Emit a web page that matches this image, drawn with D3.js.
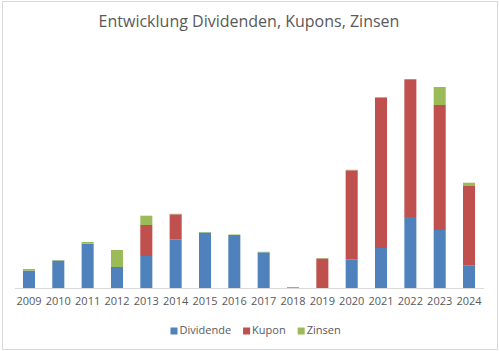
<!DOCTYPE html>
<html>
<head>
<meta charset="utf-8">
<script src="https://cdn.jsdelivr.net/npm/d3@7"></script>
<style>
  body { margin: 0; background: #fff; }
  svg { display: block; font-family: "Open Sans", "Liberation Sans", sans-serif; }
</style>
</head>
<body>
<div id="chart"></div>
<script>
// Werte (geschätzt aus der Grafik)
const years = ["2009","2010","2011","2012","2013","2014","2015","2016","2017","2018","2019","2020","2021","2022","2023","2024"];
const dividende = [17.3, 27.5, 44.3, 21, 32, 48.7, 55.5, 53, 35.7, 0, 0, 28.7, 40, 71, 58, 22.3];
const kupon     = [0, 0, 0, 0, 31, 25, 0, 0, 0, 0, 29.5, 89, 150.5, 137.7, 125, 79.7];
const zinsen    = [1.7, 0.5, 1.7, 17, 9.3, 0.5, 0.5, 0.5, 0.5, 1, 0.5, 0.5, 0.5, 0, 18, 3.3];
const keys = ["Dividende", "Kupon", "Zinsen"];
const colors = ["#4f81bd", "#c0504d", "#9bbb59"];

const fullWidth = 499, fullHeight = 351;
const baseline = 288;

const data = years.map((y, i) => ({ year: y, Dividende: dividende[i], Kupon: kupon[i], Zinsen: zinsen[i] }));
const series = d3.stack().keys(keys)(data);

const x = d3.scaleBand()
  .domain(years)
  .range([14.3, 483.7])
  .paddingInner(0.59)
  .paddingOuter(0.295);

// 1 Einheit = 1 Pixel
const y = d3.scaleLinear()
  .domain([0, 210])
  .range([baseline, baseline - 210]);

const color = d3.scaleOrdinal().domain(keys).range(colors);

const svg = d3.select("#chart")
  .append("svg")
  .attr("width", fullWidth)
  .attr("height", fullHeight);

// Rahmen
svg.append("rect")
  .attr("x", 2.5).attr("y", 1.5)
  .attr("width", fullWidth - 4).attr("height", fullHeight - 3)
  .attr("fill", "#fff")
  .attr("stroke", "#d9d9d9");

// Titel
svg.append("text")
  .attr("x", 249)
  .attr("y", 27)
  .attr("text-anchor", "middle")
  .style("font-size", "16px")
  .style("fill", "#595959")
  .text("Entwicklung Dividenden, Kupons, Zinsen");

// Balken
svg.append("g")
  .selectAll("g")
  .data(series)
  .join("g")
  .attr("fill", d => color(d.key))
  .selectAll("rect")
  .data(d => d)
  .join("rect")
  .attr("x", d => x(d.data.year))
  .attr("y", d => y(d[1]))
  .attr("height", d => y(d[0]) - y(d[1]))
  .attr("width", x.bandwidth());

// X-Achse
const xAxis = svg.append("g")
  .attr("transform", `translate(0,${baseline})`)
  .call(d3.axisBottom(x).tickSize(0).tickPadding(9).tickSizeOuter(0));
xAxis.select(".domain").attr("stroke", "#d9d9d9");
xAxis.selectAll("text")
  .style("font-size", "11px")
  .style("fill", "#595959")
  .style("font-family", "\"Open Sans\", sans-serif");

// Legende
const legend = svg.append("g").attr("transform", "translate(0,331)");
let lx = 170.5;
keys.forEach((key) => {
  const row = legend.append("g").attr("transform", `translate(${lx},0)`);
  row.append("rect")
    .attr("x", 0).attr("y", -3.5)
    .attr("width", 7).attr("height", 7)
    .attr("fill", color(key));
  const t = row.append("text")
    .attr("x", 9)
    .attr("dominant-baseline", "middle")
    .style("font-size", "11px")
    .style("fill", "#595959")
    .text(key);
  lx += 9 + t.node().getComputedTextLength() + 12;
});
</script>
</body>
</html>
